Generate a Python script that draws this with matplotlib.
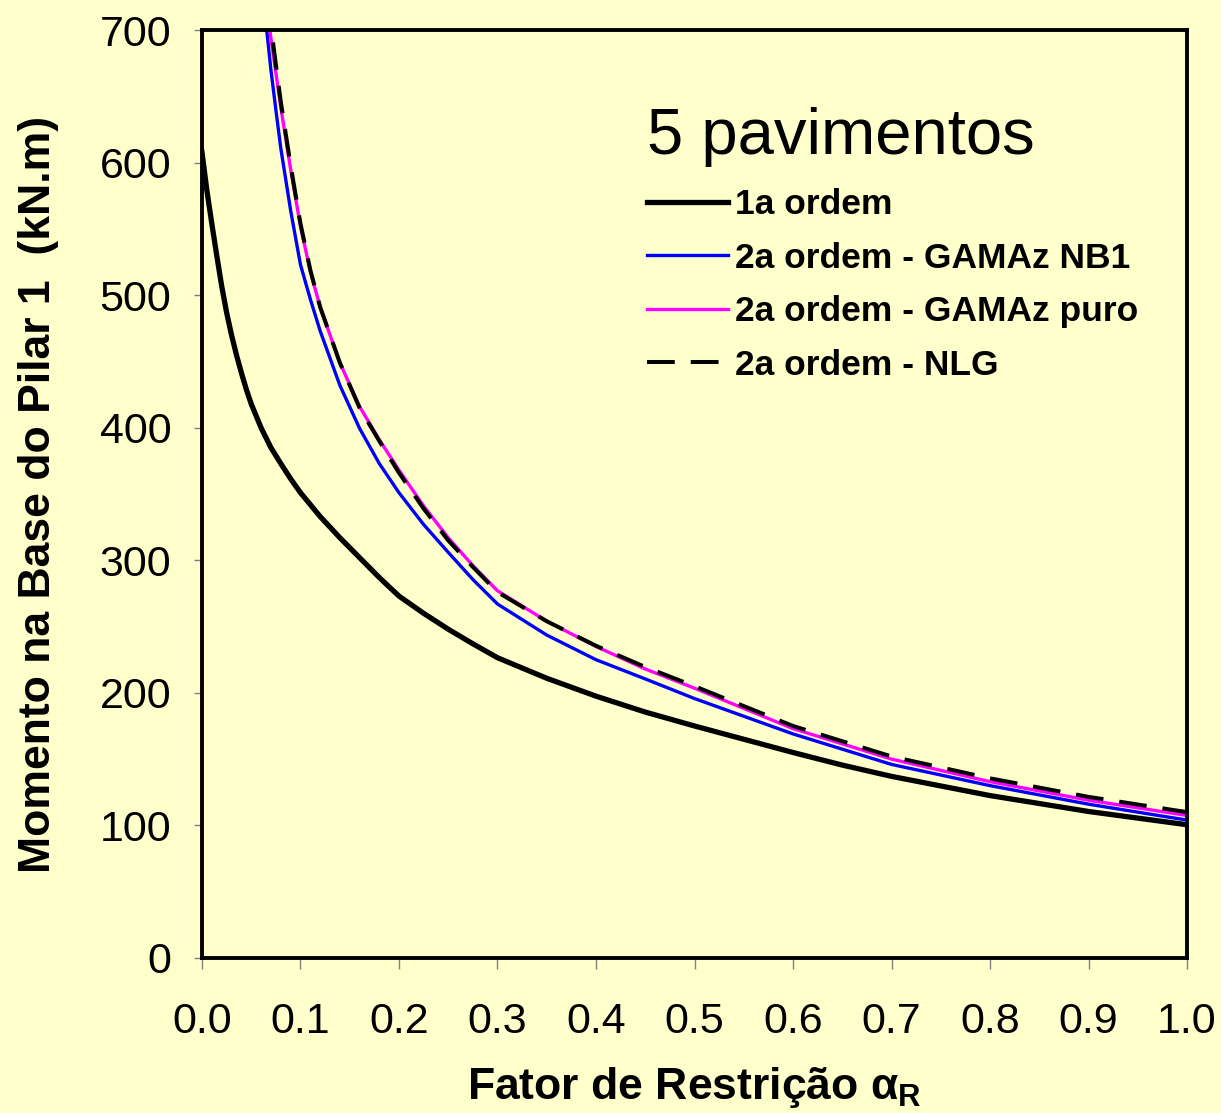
import matplotlib
matplotlib.use('Agg')
import matplotlib.pyplot as plt

# Momento na base do pilar 1 x fator de restricao (5 pavimentos)
fator_1a = [0.0, 0.005, 0.01, 0.015, 0.02, 0.025, 0.03, 0.035, 0.04, 0.045, 0.05,
            0.06, 0.07, 0.08, 0.09, 0.1, 0.12, 0.14, 0.16, 0.18, 0.2, 0.225,
            0.25, 0.275, 0.3, 0.35, 0.4, 0.45, 0.5, 0.55, 0.6, 0.65, 0.7,
            0.8, 0.9, 1.0]
momento_1a = [608, 579, 554, 530, 507, 487, 470, 455, 441.5, 429, 418,
              400, 385, 373, 361.5, 351, 333, 317, 302, 287, 273, 260,
              248, 237, 226.5, 211, 197.5, 185.5, 175, 165, 155, 145.5, 137,
              122.5, 110.5, 100.5]

fator_2a = [0.065, 0.07, 0.075, 0.08, 0.09, 0.1, 0.11, 0.12, 0.14, 0.16, 0.18,
            0.2, 0.225, 0.25, 0.275, 0.3, 0.35, 0.4, 0.45, 0.5, 0.6, 0.7,
            0.8, 0.9, 1.0]
momento_nb1 = [705, 670, 640, 611, 564, 523, 497, 473, 432, 399.5, 373,
               351, 327, 306, 285.5, 267, 243.6, 225, 210.5, 195.7, 169, 146,
               130, 116, 104]
momento_puro = [722, 694, 668, 642, 595, 552, 518, 491, 449, 416, 391,
                368, 341, 317, 296, 277, 254, 235, 218, 203.5, 173, 150,
                133, 119, 107.5]
momento_nlg = [730, 703, 674, 646, 598, 554, 519, 491, 449, 415, 390,
               366, 339, 315, 295, 276, 254, 235.5, 219.5, 205, 175, 152,
               135.5, 121.5, 110]

x_ticks = [0.0, 0.1, 0.2, 0.3, 0.4, 0.5, 0.6, 0.7, 0.8, 0.9, 1.0]
y_ticks = [0, 100, 200, 300, 400, 500, 600, 700]

BG = '#FFFFCC'

plt.rcParams['font.family'] = ['Liberation Sans', 'DejaVu Sans']
plt.rcParams['mathtext.fontset'] = 'custom'
plt.rcParams['mathtext.rm'] = 'Liberation Sans:bold'
plt.rcParams['mathtext.it'] = 'Liberation Sans:bold'
plt.rcParams['mathtext.bf'] = 'Liberation Sans:bold'
plt.rcParams['lines.scale_dashes'] = False

fig = plt.figure(figsize=(12.21, 11.13), dpi=100, facecolor=BG)
ax = fig.add_axes([0.1654, 0.1393, 0.8068, 0.8337], facecolor=BG)

ax.plot(fator_1a, momento_1a, color='black', lw=3.8, label='1a ordem')
ax.plot(fator_2a, momento_nb1, color='#0000FF', lw=2.4, label='2a ordem - GAMAz NB1')
ax.plot(fator_2a, momento_puro, color='#FF00FF', lw=2.4, label='2a ordem - GAMAz puro')
ax.plot(fator_2a, momento_nlg, color='black', lw=2.9, dashes=(20, 11.5),
        label='2a ordem - NLG')

ax.set_xlim(0, 1.0)
ax.set_ylim(0, 700)
ax.set_xticks(x_ticks)
ax.set_xticklabels(['%.1f' % v for v in x_ticks])
ax.set_yticks(y_ticks)

for s in ax.spines.values():
    s.set_linewidth(2.8)
    s.set_color('black')

ax.tick_params(axis='x', direction='out', length=8, width=1, color='#808080',
               labelsize=31, pad=24)
ax.tick_params(axis='y', direction='out', length=6, width=1, color='#808080',
               labelsize=31, pad=16)

ax.set_xlabel(r'Fator de Restrição $\alpha_R$', fontsize=32, fontweight='bold',
              labelpad=16)
ax.set_ylabel('Momento na Base do Pilar 1  (kN.m)', fontsize=32,
              fontweight='bold', labelpad=29)

ax.text(0.452, 0.885, '5 pavimentos', transform=ax.transAxes, fontsize=47,
        ha='left', va='center')

ax.legend(loc='upper left', bbox_to_anchor=(0.4518, 0.8297), frameon=False,
          prop={'weight': 'bold', 'size': 25.5}, handlelength=2.29,
          handletextpad=0.2, labelspacing=0.58, borderpad=0, borderaxespad=0)

fig.savefig('out.png', dpi=100, facecolor=BG)
